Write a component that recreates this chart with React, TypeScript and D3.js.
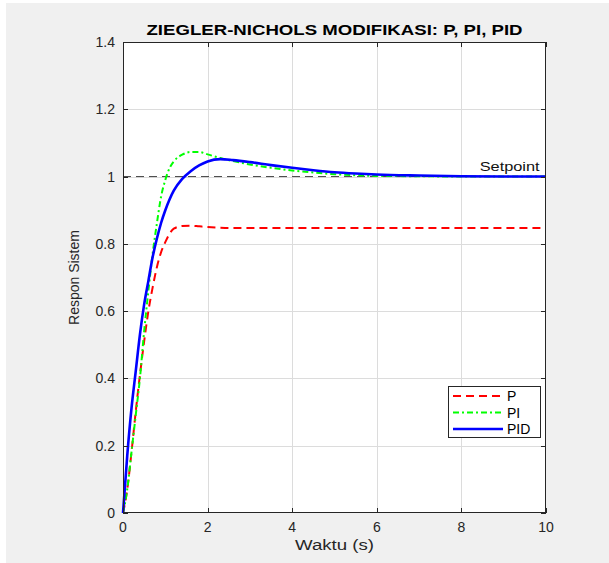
import React, { useEffect, useRef } from 'react';
import * as d3 from 'd3';

// time samples (s)
const waktu = [0, 0.1, 0.2, 0.3, 0.4, 0.5, 0.6, 0.7, 0.8, 0.9, 1.0, 1.1, 1.2, 1.4, 1.6, 1.8, 2.0, 2.3, 2.6, 3.0, 3.5, 4, 4.5, 5, 5.5, 6, 7, 8, 9, 10];

// responses
const respP = [0, 0.07, 0.18, 0.3, 0.41, 0.51, 0.6, 0.67, 0.73, 0.775, 0.805, 0.83, 0.845, 0.853, 0.854, 0.852, 0.85, 0.848, 0.847, 0.847, 0.847, 0.847, 0.847, 0.847, 0.847, 0.847, 0.847, 0.847, 0.847, 0.847];
const respPI = [0, 0.07, 0.18, 0.29, 0.4, 0.54, 0.66, 0.77, 0.86, 0.94, 0.99, 1.025, 1.045, 1.065, 1.073, 1.073, 1.066, 1.055, 1.046, 1.036, 1.026, 1.018, 1.012, 1.007, 1.004, 1.002, 1.001, 1.0, 1.0, 1.0];
const respPID = [0, 0.17, 0.31, 0.42, 0.53, 0.62, 0.69, 0.76, 0.815, 0.862, 0.9, 0.932, 0.958, 0.993, 1.016, 1.033, 1.045, 1.052, 1.049, 1.043, 1.034, 1.026, 1.019, 1.013, 1.009, 1.006, 1.003, 1.001, 1.0, 1.0];

const xTicks = [0, 2, 4, 6, 8, 10];
const yTicks = [0, 0.2, 0.4, 0.6, 0.8, 1, 1.2, 1.4];
const setpoint = 1;

const seriesList = [
  { name: 'P', values: respP, color: '#ff0000', dash: '8,5', width: 2 },
  { name: 'PI', values: respPI, color: '#00ff00', dash: '6,3,2,3', width: 2 },
  { name: 'PID', values: respPID, color: '#0000ff', dash: null, width: 2.6 },
];

const W = 609;
const H = 563;
const plot = { left: 123, right: 546, top: 42, bottom: 513 };
const FONT = '"Liberation Sans", Arial, sans-serif';
const AXIS_COLOR = '#262626';

const App = () => {
  const svgRef = useRef(null);

  useEffect(() => {
    const svg = d3.select(svgRef.current);
    svg.selectAll('*').remove();
    svg.attr('width', W).attr('height', H);

    svg.append('rect').attr('x', 0).attr('y', 0).attr('width', W).attr('height', H).attr('fill', '#ffffff');
    svg.append('rect').attr('x', 6).attr('y', 3).attr('width', W - 6).attr('height', H - 3).attr('fill', '#f0f0f0');

    const xScale = d3.scaleLinear().domain([0, 10]).range([plot.left, plot.right]);
    const yScale = d3.scaleLinear().domain([0, 1.4]).range([plot.bottom, plot.top]);

    // plot background
    svg.append('rect')
      .attr('x', plot.left).attr('y', plot.top)
      .attr('width', plot.right - plot.left).attr('height', plot.bottom - plot.top)
      .attr('fill', '#ffffff');

    // grid
    const grid = svg.append('g').attr('stroke', '#dcdcdc').attr('stroke-width', 1);
    xTicks.slice(1, -1).forEach(t => {
      grid.append('line')
        .attr('x1', Math.round(xScale(t)) + 0.5).attr('x2', Math.round(xScale(t)) + 0.5)
        .attr('y1', plot.top).attr('y2', plot.bottom);
    });
    yTicks.slice(1, -1).forEach(t => {
      grid.append('line')
        .attr('y1', Math.round(yScale(t)) + 0.5).attr('y2', Math.round(yScale(t)) + 0.5)
        .attr('x1', plot.left).attr('x2', plot.right);
    });

    // setpoint
    svg.append('line')
      .attr('x1', xScale(0)).attr('x2', xScale(10))
      .attr('y1', yScale(setpoint)).attr('y2', yScale(setpoint))
      .attr('stroke', '#444').attr('stroke-width', 1)
      .attr('stroke-dasharray', '8,5');
    svg.append('text')
      .attr('x', xScale(9.85)).attr('y', yScale(setpoint) - 6)
      .attr('text-anchor', 'end')
      .attr('font-family', FONT).attr('font-size', 13.5)
      .attr('fill', '#111')
      .attr('textLength', 60).attr('lengthAdjust', 'spacingAndGlyphs')
      .text('Setpoint');

    // curves
    const line = d3.line()
      .x((d, i) => xScale(waktu[i]))
      .y(d => yScale(d))
      .curve(d3.curveMonotoneX);

    seriesList.forEach(s => {
      const p = svg.append('path')
        .datum(s.values)
        .attr('fill', 'none')
        .attr('stroke', s.color)
        .attr('stroke-width', s.width)
        .attr('d', line);
      if (s.dash) p.attr('stroke-dasharray', s.dash);
    });

    // axes box & ticks
    const axis = svg.append('g').attr('stroke', AXIS_COLOR).attr('stroke-width', 1).attr('fill', 'none');
    axis.append('rect')
      .attr('x', plot.left + 0.5).attr('y', plot.top + 0.5)
      .attr('width', plot.right - plot.left - 1).attr('height', plot.bottom - plot.top - 1);
    xTicks.forEach(t => {
      const x = Math.round(xScale(t)) + 0.5;
      axis.append('line').attr('x1', x).attr('x2', x).attr('y1', plot.bottom).attr('y2', plot.bottom - 5);
      axis.append('line').attr('x1', x).attr('x2', x).attr('y1', plot.top).attr('y2', plot.top + 5);
    });
    yTicks.forEach(t => {
      const y = Math.round(yScale(t)) + 0.5;
      axis.append('line').attr('y1', y).attr('y2', y).attr('x1', plot.left).attr('x2', plot.left + 5);
      axis.append('line').attr('y1', y).attr('y2', y).attr('x1', plot.right).attr('x2', plot.right - 5);
    });

    // tick labels
    xTicks.forEach(t => {
      svg.append('text')
        .attr('x', xScale(t)).attr('y', plot.bottom + 19)
        .attr('text-anchor', 'middle')
        .attr('font-family', FONT).attr('font-size', 14)
        .attr('fill', AXIS_COLOR)
        .text(t);
    });
    yTicks.forEach(t => {
      svg.append('text')
        .attr('x', plot.left - 8).attr('y', yScale(t) + 5)
        .attr('text-anchor', 'end')
        .attr('font-family', FONT).attr('font-size', 14)
        .attr('fill', AXIS_COLOR)
        .text(t);
    });

    // axis titles
    svg.append('text')
      .attr('x', (plot.left + plot.right) / 2).attr('y', plot.bottom + 37)
      .attr('text-anchor', 'middle')
      .attr('font-family', FONT).attr('font-size', 15.5)
      .attr('fill', AXIS_COLOR)
      .attr('textLength', 79).attr('lengthAdjust', 'spacingAndGlyphs')
      .text('Waktu (s)');
    svg.append('text')
      .attr('transform', `translate(79, ${(plot.top + plot.bottom) / 2}) rotate(-90)`)
      .attr('text-anchor', 'middle')
      .attr('font-family', FONT).attr('font-size', 14)
      .attr('fill', AXIS_COLOR)
      .text('Respon Sistem');

    // title
    svg.append('text')
      .attr('x', (plot.left + plot.right) / 2).attr('y', plot.top - 7)
      .attr('text-anchor', 'middle')
      .attr('font-family', FONT).attr('font-size', 15.5).attr('font-weight', 'bold')
      .attr('fill', '#000')
      .attr('textLength', 376).attr('lengthAdjust', 'spacingAndGlyphs')
      .text('ZIEGLER-NICHOLS MODIFIKASI: P, PI, PID');

    // legend
    const legend = svg.append('g').attr('transform', 'translate(448, 386)');
    legend.append('rect')
      .attr('x', 0.5).attr('y', 0.5).attr('width', 92).attr('height', 51)
      .attr('fill', '#ffffff').attr('stroke', AXIS_COLOR).attr('stroke-width', 1);
    seriesList.forEach((s, i) => {
      const row = legend.append('g').attr('transform', `translate(0, ${10 + i * 16.5})`);
      const l = row.append('line')
        .attr('x1', 5).attr('x2', 55).attr('y1', 0).attr('y2', 0)
        .attr('stroke', s.color).attr('stroke-width', s.width);
      if (s.dash) l.attr('stroke-dasharray', s.dash);
      row.append('text')
        .attr('x', 59).attr('y', 5)
        .attr('font-family', FONT).attr('font-size', 14)
        .attr('fill', '#000')
        .text(s.name);
    });
  }, []);

  return (
    <div>
      <svg ref={svgRef} style={{ position: 'absolute', left: 0, top: 0 }}></svg>
    </div>
  );
};

export default App;
